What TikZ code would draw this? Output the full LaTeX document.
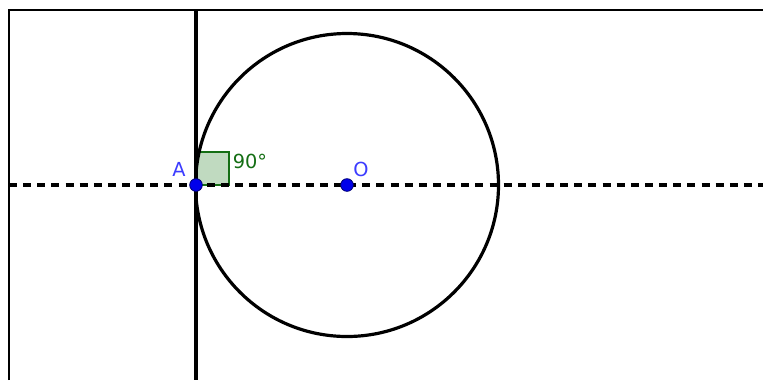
\documentclass[tikz,border=0pt]{standalone}
\usepackage{fontspec}
\setmainfont{DejaVu Sans}
\definecolor{ptblue}{RGB}{0,0,235}
\definecolor{lblblue}{RGB}{60,60,255}
\definecolor{anggreen}{RGB}{20,110,20}
\definecolor{angfill}{RGB}{192,218,192}
\begin{document}
\begin{tikzpicture}[x=0.75pt,y=-0.75pt,
  thick line/.style={line width=2.4pt},
  pt/.style={circle,fill=ptblue,draw=ptblue!50!black,line width=0.6pt,inner sep=0pt,minimum size=9.5pt},
  lbl/.style={font=\fontsize{14.5}{15}\selectfont}]
\useasboundingbox (0,0) rectangle (763,380);
% frame
\draw[line width=1.6pt] (9,380) -- (9,10) -- (763,10);
\coordinate (A) at (196,185);
\coordinate (O) at (347,185);
\coordinate (L) at (9,185);
\coordinate (R) at (763,185);
\coordinate (T) at (196,10);
\coordinate (B) at (196,380);
% right angle mark
\draw[anggreen,fill=angfill,line width=1.5pt] (A) rectangle ++(33,-33);
\draw[thick line,dash pattern=on 6pt off 4.6pt] (L) -- (R);
\draw[thick line] (T) -- (B);
\draw[thick line] (O) circle (151.5);
\node[pt] (Apt) at (A) {};
\node[pt] (Opt) at (O) {};
\node[lbl,text=lblblue] at (179,169) {A};
\node[lbl,text=lblblue] at (361,169.5) {O};
\node[lbl,text=anggreen] at (250,161) {90°};
\end{tikzpicture}
\end{document}
